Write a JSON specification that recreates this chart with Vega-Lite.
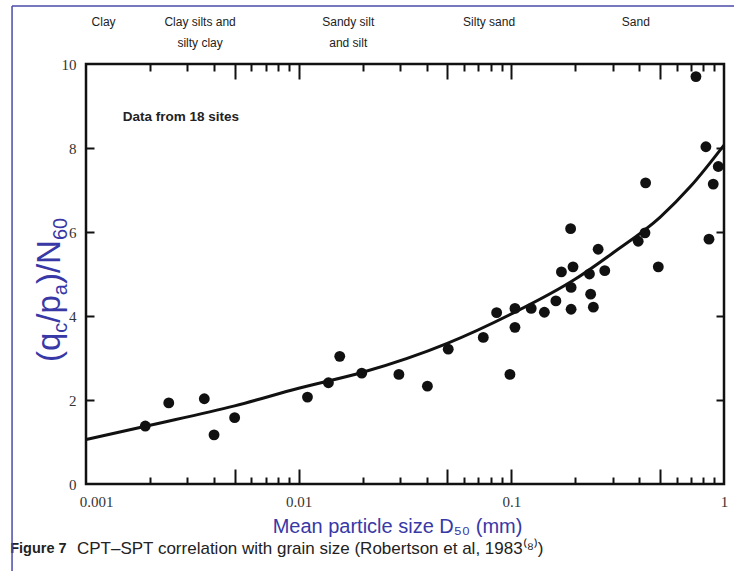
{
  "$schema": "https://vega.github.io/schema/vega-lite/v6.json",
  "width": 638,
  "height": 420,
  "autosize": {"type": "none"},
  "padding": {"left": 86, "top": 64, "right": 10, "bottom": 87},
  "background": "white",
  "config": {
    "view": {"stroke": "#111", "strokeWidth": 2.5},
    "axis": {"domain": false, "grid": false}
  },
  "datasets": {
    "points": [
      {"d50": 0.0019, "ratio": 1.38}, {"d50": 0.00245, "ratio": 1.93}, {"d50": 0.0036, "ratio": 2.03},
      {"d50": 0.004, "ratio": 1.17}, {"d50": 0.005, "ratio": 1.58}, {"d50": 0.011, "ratio": 2.07},
      {"d50": 0.0138, "ratio": 2.41}, {"d50": 0.0156, "ratio": 3.04}, {"d50": 0.0198, "ratio": 2.64},
      {"d50": 0.0296, "ratio": 2.61}, {"d50": 0.0403, "ratio": 2.33}, {"d50": 0.0505, "ratio": 3.21},
      {"d50": 0.0738, "ratio": 3.49}, {"d50": 0.0853, "ratio": 4.08}, {"d50": 0.0985, "ratio": 2.61},
      {"d50": 0.104, "ratio": 3.73}, {"d50": 0.104, "ratio": 4.18}, {"d50": 0.124, "ratio": 4.18},
      {"d50": 0.143, "ratio": 4.09}, {"d50": 0.162, "ratio": 4.36}, {"d50": 0.172, "ratio": 5.05},
      {"d50": 0.19, "ratio": 6.08}, {"d50": 0.191, "ratio": 4.16}, {"d50": 0.191, "ratio": 4.68},
      {"d50": 0.195, "ratio": 5.17}, {"d50": 0.233, "ratio": 5.0}, {"d50": 0.236, "ratio": 4.52},
      {"d50": 0.243, "ratio": 4.21}, {"d50": 0.256, "ratio": 5.59}, {"d50": 0.275, "ratio": 5.08},
      {"d50": 0.395, "ratio": 5.78}, {"d50": 0.425, "ratio": 5.98}, {"d50": 0.428, "ratio": 7.17},
      {"d50": 0.491, "ratio": 5.17}, {"d50": 0.738, "ratio": 9.7}, {"d50": 0.822, "ratio": 8.03},
      {"d50": 0.85, "ratio": 5.83}, {"d50": 0.89, "ratio": 7.14}, {"d50": 0.94, "ratio": 7.56}
    ],
    "curve": [
      {"d50": 0.001, "ratio": 1.06}, {"d50": 0.002, "ratio": 1.4}, {"d50": 0.005, "ratio": 1.86},
      {"d50": 0.01, "ratio": 2.28}, {"d50": 0.02, "ratio": 2.66}, {"d50": 0.05, "ratio": 3.35},
      {"d50": 0.1, "ratio": 4.05}, {"d50": 0.2, "ratio": 4.88}, {"d50": 0.3, "ratio": 5.5},
      {"d50": 0.5, "ratio": 6.35}, {"d50": 0.7, "ratio": 7.1}, {"d50": 1.0, "ratio": 8.07}
    ],
    "zones": [
      {"zone": ["Clay"], "d50": 0.00121},
      {"zone": ["Clay silts and", "silty clay"], "d50": 0.00344},
      {"zone": ["Sandy silt", "and silt"], "d50": 0.0171},
      {"zone": ["Silty sand"], "d50": 0.0786},
      {"zone": ["Sand"], "d50": 0.385}
    ],
    "one": [{}]
  },
  "layer": [
    {
      "data": {"name": "points"},
      "mark": {"type": "circle", "size": 118, "color": "#111", "opacity": 1},
      "encoding": {
        "x": {
          "field": "d50", "type": "quantitative",
          "scale": {"type": "log", "domain": [0.001, 1], "nice": false},
          "axis": {
            "orient": "bottom", "values": [0.001, 0.01, 0.1, 1], "ticks": false, "tickSize": 0,
            "labelPadding": 10, "labelFlush": false, "labelOverlap": false,
            "labelOffset": {"condition": {"test": "datum.value == 0.001", "value": 10}, "value": 0},
            "labelExpr": "datum.value == 0.001 ? '0.001' : datum.value == 0.01 ? '0.01' : datum.value == 0.1 ? '0.1' : '1'",
            "labelFont": "Liberation Serif", "labelFontSize": 15, "labelColor": "#333",
            "title": "Mean particle size D₅₀ (mm)", "titleFont": "Liberation Sans", "titleFontSize": 20,
            "titleFontWeight": "normal", "titleColor": "#3838a6", "titleX": 311, "titleY": 48,
            "titleBaseline": "alphabetic", "titleAlign": "center"
          }
        },
        "y": {
          "field": "ratio", "type": "quantitative",
          "scale": {"domain": [0, 10], "nice": false, "zero": false},
          "axis": {
            "orient": "left", "values": [0, 2, 4, 6, 8, 10], "ticks": false, "tickSize": 0,
            "labelPadding": 10, "labelFlush": false, "labelOverlap": false,
            "labelFont": "Liberation Serif", "labelFontSize": 15, "labelColor": "#333",
            "title": null
          }
        }
      }
    },
    {
      "data": {"name": "curve"},
      "mark": {"type": "line", "color": "#111", "strokeWidth": 3, "interpolate": "monotone"},
      "encoding": {
        "x": {
          "field": "d50", "type": "quantitative",
          "scale": {"type": "log", "domain": [0.001, 1], "nice": false},
          "axis": {
            "orient": "bottom", "values": [0.005, 0.01, 0.05, 0.1, 0.5],
            "tickSize": -15, "tickWidth": 2, "tickColor": "#111", "labels": false, "title": null
          }
        },
        "y": {
          "field": "ratio", "type": "quantitative",
          "scale": {"domain": [0, 10], "nice": false, "zero": false},
          "axis": {
            "orient": "left", "values": [2, 4, 6, 8],
            "tickSize": -8, "tickWidth": 2, "tickColor": "#111", "labels": false, "title": null
          }
        }
      }
    },
    {
      "data": {"name": "zones"},
      "mark": {"type": "text", "font": "Liberation Sans", "fontSize": 12, "color": "#222",
               "align": "center", "baseline": "top", "lineHeight": 21},
      "encoding": {
        "text": {"field": "zone"},
        "x": {
          "field": "d50", "type": "quantitative",
          "scale": {"type": "log", "domain": [0.001, 1], "nice": false},
          "axis": {
            "orient": "top", "values": [0.005, 0.01, 0.05, 0.1, 0.5],
            "tickSize": -15, "tickWidth": 2, "tickColor": "#111", "labels": false, "title": null
          }
        },
        "y": {
          "datum": 11.13, "type": "quantitative",
          "scale": {"domain": [0, 10], "nice": false, "zero": false},
          "axis": {
            "orient": "right", "values": [2, 4, 6, 8],
            "tickSize": -8, "tickWidth": 2, "tickColor": "#111", "labels": false, "title": null
          }
        }
      }
    },
    {
      "data": {"name": "one"},
      "mark": {"type": "text", "text": "Data from 18 sites", "font": "Liberation Sans", "fontSize": 13.5,
               "fontWeight": "bold", "color": "#222", "align": "left", "baseline": "middle"},
      "encoding": {
        "x": {
          "datum": 0.00149, "type": "quantitative",
          "scale": {"type": "log", "domain": [0.001, 1], "nice": false},
          "axis": {
            "orient": "top",
            "values": [0.002, 0.003, 0.004, 0.006, 0.007, 0.008, 0.009, 0.02, 0.03, 0.04, 0.06, 0.07, 0.08, 0.09, 0.2, 0.3, 0.4, 0.6, 0.7, 0.8, 0.9],
            "tickSize": -7, "tickWidth": 2, "tickColor": "#111", "labels": false, "title": null
          }
        },
        "y": {"datum": 8.75, "type": "quantitative", "scale": {"domain": [0, 10], "nice": false, "zero": false}, "axis": null}
      }
    },
    {
      "data": {"name": "one"},
      "mark": {"type": "text", "text": "Figure 7", "font": "Liberation Sans", "fontSize": 14.5,
               "fontWeight": "bold", "color": "#222", "align": "left", "baseline": "middle"},
      "encoding": {
        "x": {
          "datum": 0.00044, "type": "quantitative",
          "scale": {"type": "log", "domain": [0.001, 1], "nice": false},
          "axis": {
            "orient": "bottom",
            "values": [0.002, 0.003, 0.004, 0.006, 0.007, 0.008, 0.009, 0.02, 0.03, 0.04, 0.06, 0.07, 0.08, 0.09, 0.2, 0.3, 0.4, 0.6, 0.7, 0.8, 0.9],
            "tickSize": -7, "tickWidth": 2, "tickColor": "#111", "labels": false, "title": null
          }
        },
        "y": {"datum": -1.55, "type": "quantitative", "scale": {"domain": [0, 10], "nice": false, "zero": false}, "axis": null}
      }
    },
    {
      "data": {"name": "one"},
      "mark": {"type": "text", "text": "CPT–SPT correlation with grain size (Robertson et al, 1983⁽⁸⁾)",
               "font": "Liberation Sans", "fontSize": 17, "color": "#222", "align": "left", "baseline": "middle"},
      "encoding": {
        "x": {"datum": 0.000907, "type": "quantitative", "scale": {"type": "log", "domain": [0.001, 1], "nice": false}, "axis": null},
        "y": {"datum": -1.55, "type": "quantitative", "scale": {"domain": [0, 10], "nice": false, "zero": false}, "axis": null}
      }
    },
    {
      "data": {"name": "one"},
      "mark": {"type": "text", "text": "(q", "font": "Liberation Sans", "fontSize": 33, "color": "#3838a6",
               "angle": 270, "align": "left", "baseline": "alphabetic"},
      "encoding": {
        "x": {"datum": 0.000755, "type": "quantitative", "scale": {"type": "log", "domain": [0.001, 1], "nice": false}, "axis": null},
        "y": {"datum": 2.905, "type": "quantitative", "scale": {"domain": [0, 10], "nice": false, "zero": false}, "axis": null}
      }
    },
    {
      "data": {"name": "one"},
      "mark": {"type": "text", "text": "c", "font": "Liberation Sans", "fontSize": 20, "color": "#3838a6",
               "angle": 270, "align": "left", "baseline": "alphabetic"},
      "encoding": {
        "x": {"datum": 0.000814, "type": "quantitative", "scale": {"type": "log", "domain": [0.001, 1], "nice": false}, "axis": null},
        "y": {"datum": 3.602, "type": "quantitative", "scale": {"domain": [0, 10], "nice": false, "zero": false}, "axis": null}
      }
    },
    {
      "data": {"name": "one"},
      "mark": {"type": "text", "text": "/p", "font": "Liberation Sans", "fontSize": 33, "color": "#3838a6",
               "angle": 270, "align": "left", "baseline": "alphabetic"},
      "encoding": {
        "x": {"datum": 0.000755, "type": "quantitative", "scale": {"type": "log", "domain": [0.001, 1], "nice": false}, "axis": null},
        "y": {"datum": 3.84, "type": "quantitative", "scale": {"domain": [0, 10], "nice": false, "zero": false}, "axis": null}
      }
    },
    {
      "data": {"name": "one"},
      "mark": {"type": "text", "text": "a", "font": "Liberation Sans", "fontSize": 20, "color": "#3838a6",
               "angle": 270, "align": "left", "baseline": "alphabetic"},
      "encoding": {
        "x": {"datum": 0.000814, "type": "quantitative", "scale": {"type": "log", "domain": [0.001, 1], "nice": false}, "axis": null},
        "y": {"datum": 4.495, "type": "quantitative", "scale": {"domain": [0, 10], "nice": false, "zero": false}, "axis": null}
      }
    },
    {
      "data": {"name": "one"},
      "mark": {"type": "text", "text": ")/N", "font": "Liberation Sans", "fontSize": 33, "color": "#3838a6",
               "angle": 270, "align": "left", "baseline": "alphabetic"},
      "encoding": {
        "x": {"datum": 0.000755, "type": "quantitative", "scale": {"type": "log", "domain": [0.001, 1], "nice": false}, "axis": null},
        "y": {"datum": 4.76, "type": "quantitative", "scale": {"domain": [0, 10], "nice": false, "zero": false}, "axis": null}
      }
    },
    {
      "data": {"name": "one"},
      "mark": {"type": "text", "text": "60", "font": "Liberation Sans", "fontSize": 20, "color": "#3838a6",
               "angle": 270, "align": "left", "baseline": "alphabetic"},
      "encoding": {
        "x": {"datum": 0.000814, "type": "quantitative", "scale": {"type": "log", "domain": [0.001, 1], "nice": false}, "axis": null},
        "y": {"datum": 5.807, "type": "quantitative", "scale": {"domain": [0, 10], "nice": false, "zero": false}, "axis": null}
      }
    },
    {
      "data": {"name": "one"},
      "mark": {"type": "rule", "color": "#4a4aa8", "strokeWidth": 1.5},
      "encoding": {
        "x": {"datum": 0.000449, "type": "quantitative", "scale": {"type": "log", "domain": [0.001, 1], "nice": false}, "axis": null},
        "x2": {"datum": 5},
        "y": {"datum": 11.38, "type": "quantitative", "scale": {"domain": [0, 10], "nice": false, "zero": false}, "axis": null}
      }
    },
    {
      "data": {"name": "one"},
      "mark": {"type": "rule", "color": "#4a4aa8", "strokeWidth": 1.5},
      "encoding": {
        "x": {"datum": 0.000449, "type": "quantitative", "scale": {"type": "log", "domain": [0.001, 1], "nice": false}, "axis": null},
        "y": {"datum": 11.38, "type": "quantitative", "scale": {"domain": [0, 10], "nice": false, "zero": false}, "axis": null},
        "y2": {"datum": -3}
      }
    }
  ],
  "resolve": {"axis": {"x": "independent", "y": "independent"}}
}
